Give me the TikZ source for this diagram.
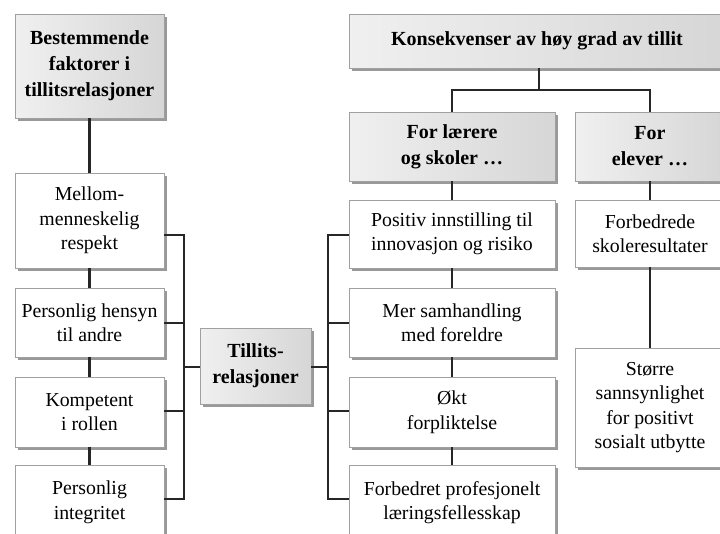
\documentclass[tikz,border=0pt]{standalone}
\usepackage{fontspec}
\setmainfont{Liberation Serif}
\usetikzlibrary{shadows}
\definecolor{linec}{HTML}{262626}
\definecolor{edgec}{HTML}{A0A0A0}
\definecolor{shadc}{HTML}{999999}
\tikzset{
  box/.style={draw=edgec, line width=0.8pt, fill=white, align=center, inner sep=0pt,
    font=\fontsize{19.8}{24.5}\selectfont,
    general shadow={fill=shadc, shadow xshift=3pt, shadow yshift=-3pt}},
  hbox/.style={box, fill=none, left color=gray!12, right color=gray!32,
    font=\fontsize{20}{26}\selectfont\bfseries},
  conn/.style={draw=linec, line width=2.4pt},
}
\begin{document}
\begin{tikzpicture}[x=1pt,y=-1pt]
\useasboundingbox (0,0) rectangle (720,533);
\fill[white] (0,0) rectangle (720,533);
\clip (0,0) rectangle (720,533);
% left column
\node[hbox, minimum width=149pt, minimum height=104pt] (B1) at (89.5,66) {Bestemmende\\faktorer i\\tillitsrelasjoner};
\node[box, minimum width=149pt, minimum height=95pt] (L1) at (89.5,220.5) {Mellom-\\menneskelig\\respekt};
\node[box, minimum width=149pt, minimum height=69pt] (L2) at (89.5,322.5) {Personlig hensyn\\til andre};
\node[box, minimum width=149pt, minimum height=70pt] (L3) at (89.5,412) {Kompetent\\i rollen};
\node[box, minimum width=149pt, minimum height=75pt] (L4) at (89.5,502.5) {Personlig\\integritet};
% centre
\node[hbox, minimum width=111pt, minimum height=76pt] (T) at (255.5,366) {Tillits-\\relasjoner};
% middle column
\node[hbox, minimum width=376pt, minimum height=54pt] (K) at (537,41) {Konsekvenser av høy grad av tillit};
\node[hbox, minimum width=206pt, minimum height=69pt] (FL) at (452,146.5) {For lærere\\og skoler \dots};
\node[box, minimum width=206pt, minimum height=68pt] (M1) at (452,234) {Positiv innstilling til\\innovasjon og risiko};
\node[box, minimum width=206pt, minimum height=69pt] (M2) at (452,322.5) {Mer samhandling\\med foreldre};
\node[box, minimum width=206pt, minimum height=70pt] (M3) at (452,412) {Økt\\forpliktelse};
\node[box, minimum width=206pt, minimum height=75pt] (M4) at (452,502.5) {Forbedret profesjonelt\\læringsfellesskap};
% right column
\node[hbox, minimum width=150pt, minimum height=69pt] (FE) at (650,146.5) {For\\elever \dots};
\node[box, minimum width=150pt, minimum height=67pt] (R1) at (650,233.5) {Forbedrede\\skoleresultater};
\node[box, minimum width=150pt, minimum height=119pt] (R2) at (650,407.5) {Større\\sannsynlighet\\for positivt\\sosialt utbytte};
% coordinates for the brackets
\coordinate (lb1) at (184,235);
\coordinate (lb2) at (184,323);
\coordinate (lb3) at (184,411);
\coordinate (lb4) at (184,499);
\coordinate (lbm) at (184,367);
\coordinate (rb1) at (328,235);
\coordinate (rb2) at (328,323);
\coordinate (rb3) at (328,411);
\coordinate (rb4) at (328,499);
\coordinate (rbm) at (328,367);
\coordinate (kj) at (539,90);
% connectors
\draw[conn] (B1) -- (L1);
\draw[conn] (L1) -- (L2);
\draw[conn] (L2) -- (L3);
\draw[conn] (L3) -- (L4);
\draw[conn] (L1.east |- lb1) -- (lb1) -- (lb4) -- (L4.east |- lb4);
\draw[conn] (L2.east |- lb2) -- (lb2);
\draw[conn] (L3.east |- lb3) -- (lb3);
\draw[conn] (lbm) -- (T.west |- lbm);
\draw[conn] (T.east |- rbm) -- (rbm);
\draw[conn] (M1.west |- rb1) -- (rb1) -- (rb4) -- (M4.west |- rb4);
\draw[conn] (M2.west |- rb2) -- (rb2);
\draw[conn] (M3.west |- rb3) -- (rb3);
\draw[conn] (K.south -| kj) -- (kj);
\draw[conn] (FL.north) |- (kj) -| (FE.north);
\draw[conn] (FL) -- (M1);
\draw[conn] (M1) -- (M2);
\draw[conn] (M2) -- (M3);
\draw[conn] (M3) -- (M4);
\draw[conn] (FE) -- (R1);
\draw[conn] (R1) -- (R2);
\end{tikzpicture}
\end{document}
